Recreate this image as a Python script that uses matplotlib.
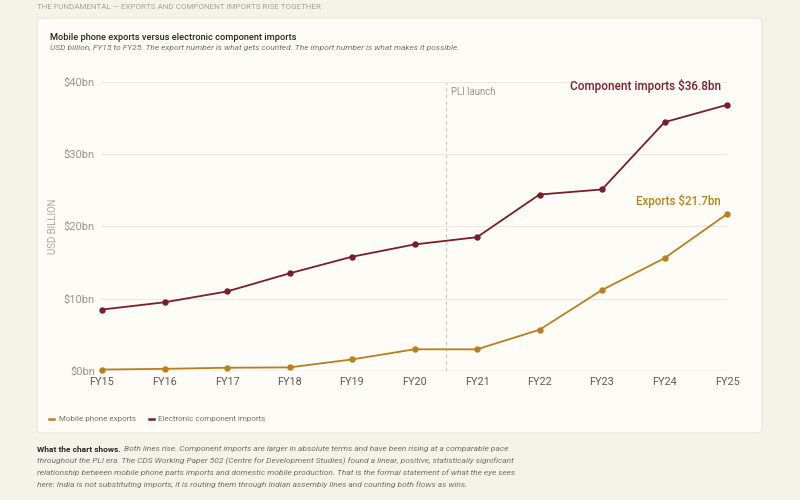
import matplotlib
matplotlib.use("Agg")
from matplotlib import pyplot as plt
from matplotlib.patches import FancyBboxPatch
from matplotlib.lines import Line2D

plt.rcParams['font.family'] = ['Roboto', 'DejaVu Sans']

# data (USD billion)
years = ["FY15", "FY16", "FY17", "FY18", "FY19", "FY20",
         "FY21", "FY22", "FY23", "FY24", "FY25"]
exports = [0.2, 0.3, 0.45, 0.5, 1.6, 3.0, 3.0, 5.7, 11.2, 15.6, 21.7]
imports = [8.5, 9.5, 11.0, 13.5, 15.8, 17.5, 18.5, 24.4, 25.1, 34.4, 36.8]
y_ticks = [0, 10, 20, 30, 40]
pli_launch = 5.5  # between FY20 and FY21

BG = "#f5f2e9"
CARD = "#fdfcf7"
EXP_COL = "#b8801c"
IMP_COL = "#7a1d2b"
GRID = "#ece8df"
MUTED = "#9a968e"

fig = plt.figure(figsize=(8, 5), dpi=100, facecolor=BG)

# card panel
card = FancyBboxPatch((37 / 800, 1 - 433 / 500), (762 - 37) / 800, (433 - 18) / 500,
                      boxstyle="round,pad=0,rounding_size=0.008",
                      transform=fig.transFigure, facecolor=CARD,
                      edgecolor="#ebe6da", linewidth=0.8, zorder=0)
fig.patches.append(card)

fig.text(37 / 800, 1 - 7 / 500, "THE FUNDAMENTAL — EXPORTS AND COMPONENT IMPORTS RISE TOGETHER",
         fontsize=5.75, color="#a7a398", va="center", ha="left")
fig.text(50 / 800, 1 - 37 / 500, "Mobile phone exports versus electronic component imports",
         fontsize=6.7, color="#2a2722", fontweight="medium", va="center")
fig.text(50 / 800, 1 - 48 / 500,
         "USD billion, FY15 to FY25. The export number is what gets counted. "
         "The import number is what makes it possible.",
         fontsize=6.0, color="#77736b", style="italic", va="center")

ax = fig.add_axes([102 / 800, 1 - 371 / 500, (727 - 102) / 800, (371 - 81.7) / 500])
ax.set_zorder(2)
ax.set_facecolor("none")
x = list(range(len(years)))

ax.plot(x, imports, color=IMP_COL, linewidth=1.3, marker="o", markersize=3.6,
        solid_capstyle="round", zorder=3, clip_on=False)
ax.plot(x, exports, color=EXP_COL, linewidth=1.3, marker="o", markersize=3.6,
        solid_capstyle="round", zorder=3, clip_on=False)

ax.set_xlim(0, len(years) - 1)
ax.set_ylim(0, 40)
ax.set_xticks(x)
ax.set_xticklabels(years)
ax.set_yticks(y_ticks)
ax.set_yticklabels(["$%dbn" % v for v in y_ticks])
ax.tick_params(axis="x", length=0, pad=4, labelsize=7.8, labelcolor="#5e5a53")
ax.tick_params(axis="y", length=0, pad=5, labelsize=8.0, labelcolor=MUTED)
for s in ax.spines.values():
    s.set_visible(False)
ax.grid(axis="y", color=GRID, linewidth=0.8)
ax.axhline(0, color="#dcd7cc", linewidth=1.0, zorder=1)
ax.set_ylabel("USD BILLION", fontsize=6.9, color="#aaa69d", labelpad=4)

ax.axvline(pli_launch, color="#c9c5bc", linewidth=0.8, linestyle=(0, (3, 3)), zorder=1)
ax.text(pli_launch + 0.08, 39.3, "PLI launch", fontsize=6.9, color=MUTED,
        va="top", ha="left")

ax.text(len(years) - 1.1, imports[-1] + 2.6, "Component imports $%.1fbn" % imports[-1],
        color=IMP_COL, fontsize=8.4, fontweight="medium", ha="right", va="center")
ax.text(len(years) - 1.1, exports[-1] + 1.75, "Exports $%.1fbn" % exports[-1],
        color=EXP_COL, fontsize=8.3, fontweight="medium", ha="right", va="center")

# legend
leg_handles = [Line2D([0], [0], color=EXP_COL, linewidth=1.8),
               Line2D([0], [0], color=IMP_COL, linewidth=1.8)]
fig.legend(leg_handles, ["Mobile phone exports", "Electronic component imports"],
           loc="center left", bbox_to_anchor=(42 / 800, 1 - 419 / 500), ncol=2,
           frameon=False, fontsize=5.8, labelcolor="#77736b", handlelength=0.6,
           handletextpad=0.6, columnspacing=1.6)

# footer note
lines = [
    "Both lines rise. Component imports are larger in absolute terms and have been rising at a comparable pace",
    "throughout the PLI era. The CDS Working Paper 502 (Centre for Development Studies) found a linear, positive, statistically significant",
    "relationship between mobile phone parts imports and domestic mobile production. That is the formal statement of what the eye sees",
    "here: India is not substituting imports, it is routing them through Indian assembly lines and counting both flows as wins.",
]
bold = fig.text(37 / 800, 1 - 449 / 500, "What the chart shows.", fontsize=6.0,
                color="#2a2722", fontweight="bold", va="center")
renderer = fig.canvas.get_renderer()
bb = bold.get_window_extent(renderer)
x0 = (bb.x1 + 3) / (fig.get_figwidth() * fig.dpi)
fig.text(x0, 1 - 449 / 500, lines[0], fontsize=6.0, color="#76726a",
         style="italic", va="center")
for i, line in enumerate(lines[1:], start=1):
    fig.text(37 / 800, 1 - (449 + 12 * i) / 500, line, fontsize=6.0,
             color="#76726a", style="italic", va="center")

fig.savefig("out.png", dpi=100, facecolor=BG)
